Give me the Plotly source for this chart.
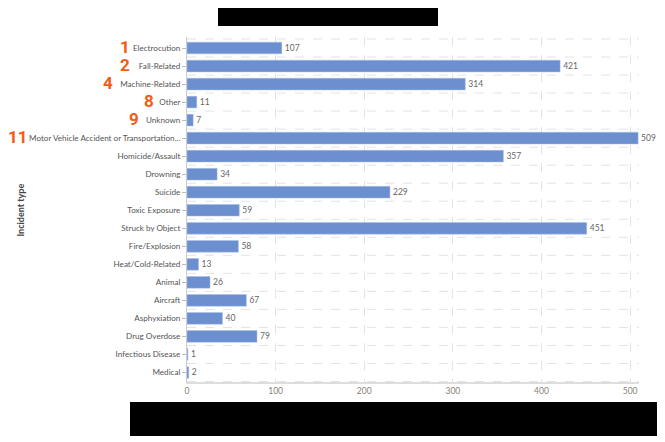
import plotly.graph_objects as go

# incident categories top to bottom, and counts
incident_types = [
    "Electrocution", "Fall-Related", "Machine-Related", "Other", "Unknown",
    "Motor Vehicle Accident or Transportation...", "Homicide/Assault", "Drowning",
    "Suicide", "Toxic Exposure", "Struck by Object", "Fire/Explosion",
    "Heat/Cold-Related", "Animal", "Aircraft", "Asphyxiation", "Drug Overdose",
    "Infectious Disease", "Medical",
]
counts = [107, 421, 314, 11, 7, 509, 357, 34, 229, 59, 451, 58, 13, 26, 67, 40, 79, 1, 2]

# handwritten marks next to some labels
marks = ["1", "2", "4", "8", "9", "11"]
mark_rows = ["Electrocution", "Fall-Related", "Machine-Related", "Other", "Unknown",
             "Motor Vehicle Accident or Transportation..."]
mark_px = [125, 125, 108, 149, 134, 18]

# page body has an 8px margin, so the figure sits at (8, 8)
OFF = 8
W, H = 665 - OFF, 442 - OFF
L, R, T, B = 187 - OFF, 26, 37 - OFF, 60
pw, ph = W - L - R, H - T - B


def px_x(x):
    return (x - OFF - L) / pw


def px_y(y):
    return (H - B - (y - OFF)) / ph


fig = go.Figure()
fig.add_trace(go.Bar(
    x=counts,
    y=incident_types,
    orientation="h",
    marker=dict(color="#6b8fcf", line=dict(color="#a9c0e8", width=0.5)),
    text=counts,
    textposition="outside",
    cliponaxis=False,
    textfont=dict(size=8.5, color="#666666", family="Lato"),
))

# dashed row separators
shapes = []
for i in range(len(incident_types) + 1):
    shapes.append(dict(type="line", xref="paper", yref="y", x0=0, x1=1,
                       y0=i - 0.5, y1=i - 0.5,
                       line=dict(color="#e3e3e3", width=1, dash="dash"), layer="below"))

# redaction boxes
shapes.append(dict(type="rect", xref="paper", yref="paper",
                   x0=px_x(218), x1=px_x(438), y0=px_y(26), y1=px_y(6),
                   fillcolor="black", line=dict(width=0)))
shapes.append(dict(type="rect", xref="paper", yref="paper",
                   x0=px_x(130), x1=px_x(657), y0=px_y(436), y1=px_y(402),
                   fillcolor="black", line=dict(width=0)))

annotations = [dict(text="<b>Incident type</b>", xref="paper", yref="paper",
                    x=px_x(13), y=px_y(210), textangle=-90, showarrow=False,
                    font=dict(size=9, color="#444444", family="Lato"))]
for m, row, px in zip(marks, mark_rows, mark_px):
    annotations.append(dict(text="<b>" + m + "</b>", x=px_x(px), xref="paper",
                            y=row, yref="y", yshift=1, showarrow=False, xanchor="center",
                            font=dict(size=17, color="#f25c19", family="Roboto")))

fig.update_layout(
    width=W, height=H,
    margin=dict(l=L, r=R, t=T, b=B),
    plot_bgcolor="white", paper_bgcolor="white",
    font=dict(family="Lato", size=8.1, color="#555555"),
    showlegend=False,
    bargap=0.35,
    shapes=shapes,
    annotations=annotations,
    xaxis=dict(range=[0, 510], tickvals=[0, 100, 200, 300, 400, 500],
               showgrid=True, gridcolor="#e3e3e3", griddash="dash",
               showline=True, linecolor="#dddddd", linewidth=2,
               zeroline=False, automargin=False,
               tickfont=dict(size=8.5, color="#8a7f74", family="Lato")),
    yaxis=dict(categoryorder="array", categoryarray=incident_types, autorange="reversed",
               showgrid=False, showline=True, linecolor="#cccccc", linewidth=1,
               ticks="outside", ticklen=4, tickcolor="#bbbbbb", automargin=False,
               tickfont=dict(size=8.1, color="#555555", family="Lato")),
)

fig.write_html("out.html")
